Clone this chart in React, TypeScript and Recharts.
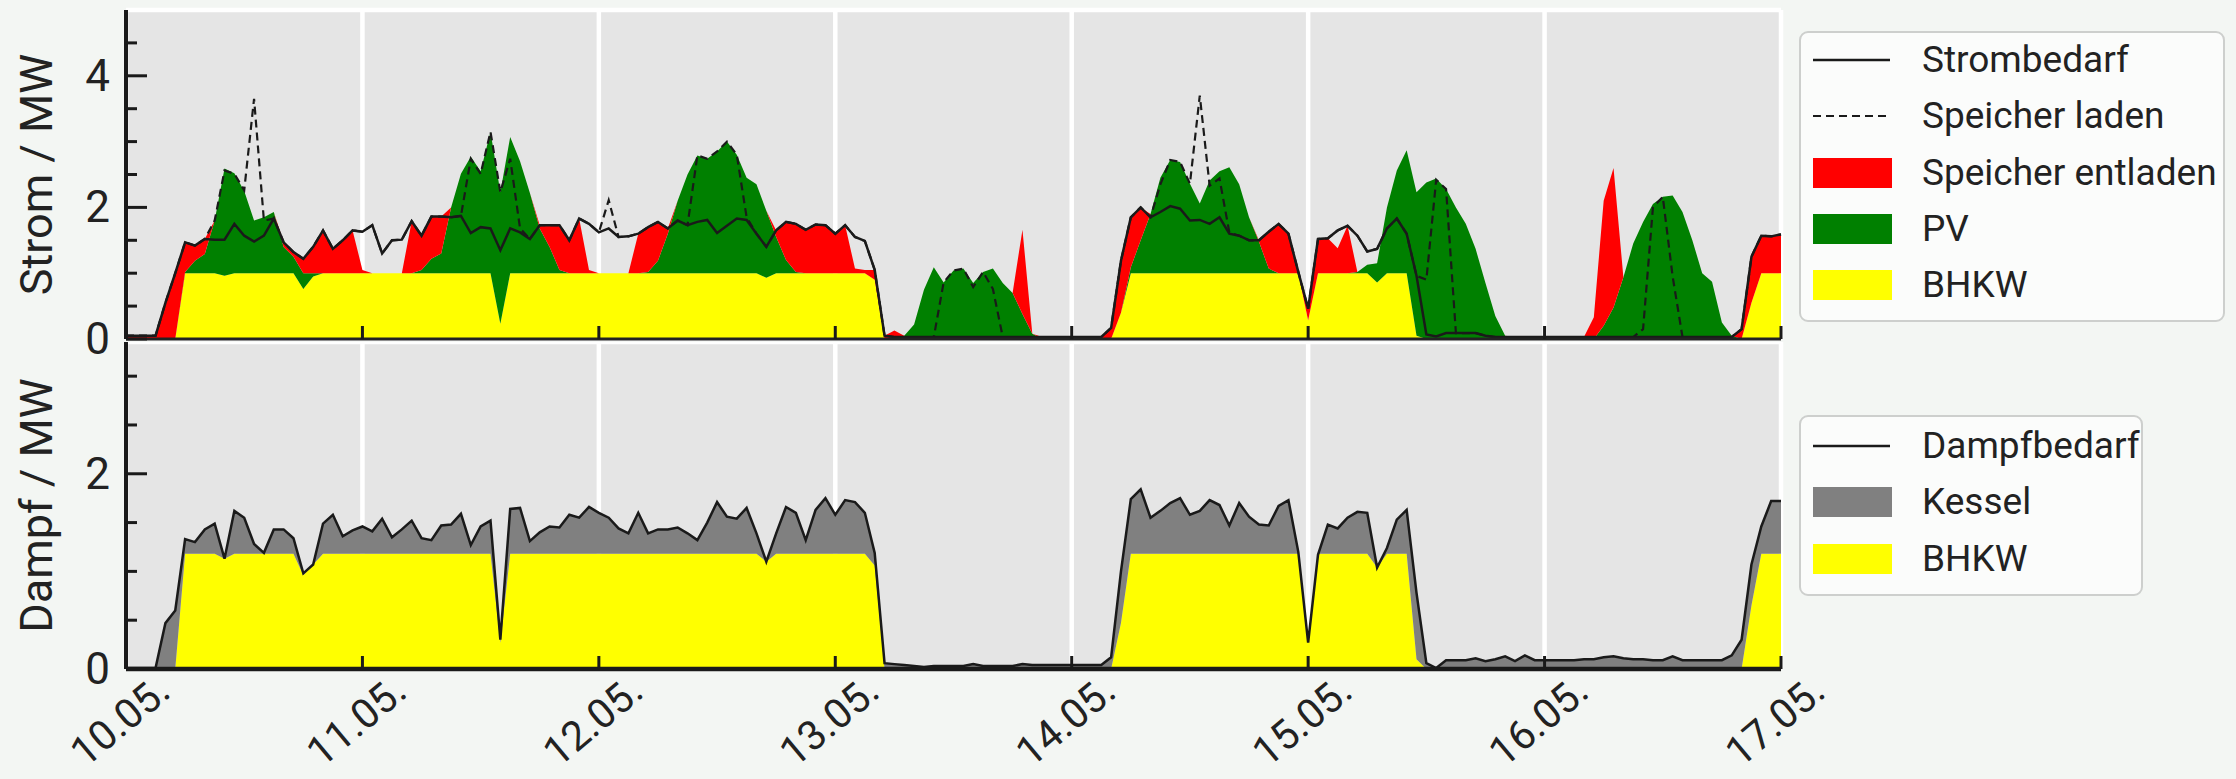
import React from 'react';
import { ComposedChart, Area, Line, XAxis, YAxis, CartesianGrid, Legend } from 'recharts';

const FONT = 'Roboto, "DejaVu Sans", sans-serif';
const BG = '#f3f6f3';
const INK = '#1a1a1a';

const DAY_LABELS = ['10.05.', '11.05.', '12.05.', '13.05.', '14.05.', '15.05.', '16.05.', '17.05.'];
const DAY_TICKS = [0, 24, 48, 72, 96, 120, 144, 168];
const STROM_TICKS = [0, 0.5, 1, 1.5, 2, 2.5, 3, 3.5, 4, 4.5];
const STROM_LABELS = [0, 2, 4];
const STROM_GRID = [2, 4];
const DAMPF_TICKS = [0, 0.5, 1, 1.5, 2, 2.5, 3];
const DAMPF_LABELS = [0, 2];
const DAMPF_GRID = [2];

// hourly values, 10.05. 00:00 .. 17.05. 00:00 (one row per day)
const BHKW_EL = [
  0, 0, 0, 0, 0, 0, 1, 1, 1, 1, 0.96, 1, 1, 1, 1, 1, 1, 1, 0.76, 0.95, 1, 1, 1, 1,
  1, 1, 1, 1, 1, 1, 1, 1, 1, 1, 1, 1, 1, 1, 0.23, 1, 1, 1, 1, 1, 1, 1, 1, 1,
  1, 1, 1, 1, 1, 1, 1, 1, 1, 1, 1, 1, 1, 1, 1, 1, 1, 0.93, 1, 1, 1, 1, 1, 1,
  1, 1, 1, 1, 0.9, 0, 0, 0, 0, 0, 0, 0, 0, 0, 0, 0, 0, 0, 0, 0, 0, 0, 0, 0,
  0, 0, 0, 0, 0, 0.4, 1, 1, 1, 1, 1, 1, 1, 1, 1, 1, 1, 1, 1, 1, 1, 1, 1, 1,
  0.28, 1, 1, 1, 1, 1, 1, 0.86, 1, 1, 1, 0.05, 0, 0, 0, 0, 0, 0, 0, 0, 0, 0, 0, 0,
  0, 0, 0, 0, 0, 0, 0, 0, 0, 0, 0, 0, 0, 0, 0, 0, 0, 0, 0, 0, 0, 0.55, 1, 1,
  1,
];

const PV = [
  0, 0, 0, 0, 0, 0, 0.02, 0.19, 0.29, 0.8, 1.63, 1.52, 1.25, 0.8, 0.85, 0.93, 0.4, 0.25, 0.24, 0.05, 0, 0, 0, 0,
  0, 0, 0, 0, 0, 0, 0.05, 0.22, 0.3, 1.0, 1.51, 1.77, 1.55, 2.15, 2.0, 2.07, 1.7, 1.22, 0.68, 0.4, 0.05, 0, 0, 0,
  0, 0, 0, 0, 0, 0.02, 0.19, 0.6, 1.1, 1.5, 1.79, 1.74, 1.85, 2.0, 1.8, 1.45, 1.35, 1.02, 0.55, 0.2, 0.02, 0, 0, 0,
  0, 0, 0, 0, 0, 0, 0, 0.05, 0.22, 0.75, 1.09, 0.86, 1.04, 1.07, 0.85, 1.02, 1.07, 0.85, 0.7, 0.38, 0.08, 0, 0, 0,
  0, 0, 0, 0, 0, 0, 0.09, 0.5, 0.9, 1.45, 1.72, 1.69, 1.36, 1.06, 1.41, 1.55, 1.61, 1.35, 0.85, 0.48, 0.07, 0, 0, 0,
  0, 0, 0, 0, 0, 0.02, 0.13, 0.29, 1.0, 1.56, 1.87, 2.18, 2.38, 2.44, 2.28, 2.0, 1.75, 1.37, 0.85, 0.35, 0.05, 0, 0, 0,
  0, 0, 0, 0, 0, 0, 0.2, 0.48, 0.94, 1.45, 1.78, 2.05, 2.16, 2.18, 1.93, 1.5, 1.0, 0.87, 0.25, 0.05, 0, 0, 0, 0,
  0,
];

const SPEICHER_ENTLADEN = [
  0.05, 0.05, 0.05, 0.05, 0.55, 1.0, 0.45, 0.23, 0.23, 0, 0, 0, 0, 0, 0, 0, 0.07, 0.07, 0.22, 0.4, 0.65, 0.37, 0.5, 0.65,
  0.05, 0, 0, 0, 0, 0.79, 0.52, 0.64, 0.56, 0, 0, 0, 0, 0, 0, 0, 0, 0, 0.05, 0.33, 0.68, 0.5, 0.83, 0.05,
  0, 0, 0, 0, 0.6, 0.68, 0.59, 0.08, 0, 0, 0, 0, 0, 0, 0, 0, 0, 0, 0.1, 0.58, 0.73, 0.66, 0.74, 0.73,
  0.6, 0.73, 0.07, 0.05, 0.15, 0.05, 0.13, 0, 0, 0, 0, 0, 0, 0, 0, 0, 0, 0, 0, 1.28, 0, 0.03, 0.03, 0.03,
  0.03, 0.03, 0.03, 0.03, 0.17, 0.79, 0.76, 0.5, 0, 0, 0, 0, 0, 0, 0, 0, 0, 0, 0, 0.02, 0.56, 0.75, 0.6, 0.02,
  0.18, 0.52, 0.53, 0.38, 0.72, 0, 0, 0, 0, 0, 0, 0, 0, 0, 0, 0, 0, 0, 0, 0, 0, 0.03, 0.03, 0.03,
  0.03, 0.03, 0.03, 0.03, 0.03, 0.33, 1.9, 2.12, 0, 0, 0, 0, 0, 0, 0, 0, 0, 0, 0, 0, 0.15, 0.7, 0.57, 0.56,
  0.59,
];

const STROMBEDARF = [
  0.05, 0.05, 0.05, 0.05, 0.55, 1.0, 1.47, 1.42, 1.52, 1.51, 1.51, 1.75, 1.57, 1.48, 1.57, 1.83, 1.47, 1.32, 1.22, 1.4, 1.65, 1.37, 1.5, 1.65,
  1.63, 1.73, 1.3, 1.5, 1.51, 1.79, 1.57, 1.86, 1.86, 1.85, 1.87, 1.61, 1.7, 1.68, 1.35, 1.68, 1.62, 1.52, 1.73, 1.73, 1.73, 1.5, 1.83, 1.75,
  1.62, 1.68, 1.55, 1.56, 1.6, 1.7, 1.78, 1.68, 1.8, 1.73, 1.78, 1.81, 1.61, 1.72, 1.83, 1.81, 1.6, 1.4, 1.65, 1.78, 1.75, 1.66, 1.74, 1.73,
  1.6, 1.73, 1.55, 1.49, 1.05, 0.05, 0.03, 0.03, 0.03, 0.03, 0.03, 0.03, 0.03, 0.03, 0.03, 0.03, 0.03, 0.03, 0.03, 0.03, 0.03, 0.03, 0.03, 0.03,
  0.03, 0.03, 0.03, 0.03, 0.17, 1.19, 1.85, 2.0, 1.85, 1.93, 2.02, 1.98, 1.8, 1.81, 1.75, 1.85, 1.6, 1.57, 1.5, 1.5, 1.63, 1.75, 1.6, 1.02,
  0.46, 1.52, 1.53, 1.65, 1.72, 1.57, 1.33, 1.37, 1.68, 1.83, 1.6, 0.96, 0.07, 0.04, 0.09, 0.09, 0.09, 0.09, 0.05, 0.03, 0.03, 0.03, 0.03, 0.03,
  0.03, 0.03, 0.03, 0.03, 0.03, 0.03, 0.03, 0.03, 0.03, 0.03, 0.03, 0.03, 0.03, 0.03, 0.03, 0.03, 0.03, 0.03, 0.03, 0.03, 0.15, 1.25, 1.57, 1.56,
  1.59,
];

const SPEICHER_LADEN = [
  0.05, 0.05, 0.05, 0.05, 0.55, 1.0, 1.47, 1.42, 1.52, 1.8, 2.56, 2.51, 2.26, 3.65, 1.8, 1.83, 1.47, 1.32, 1.22, 1.4, 1.65, 1.37, 1.5, 1.65,
  1.63, 1.73, 1.3, 1.5, 1.51, 1.79, 1.57, 1.86, 1.86, 1.85, 1.87, 2.74, 2.51, 3.15, 2.23, 2.74, 1.68, 1.52, 1.73, 1.73, 1.73, 1.5, 1.83, 1.75,
  1.62, 2.11, 1.55, 1.56, 1.6, 1.7, 1.78, 1.68, 1.8, 1.73, 2.79, 2.74, 2.85, 3.0, 2.8, 1.85, 1.6, 1.4, 1.65, 1.78, 1.75, 1.66, 1.74, 1.73,
  1.6, 1.73, 1.55, 1.49, 1.05, 0.05, 0.03, 0.03, 0.03, 0.03, 0.03, 0.86, 1.04, 1.07, 0.79, 1.02, 0.76, 0.03, 0.03, 0.03, 0.03, 0.03, 0.03, 0.03,
  0.03, 0.03, 0.03, 0.03, 0.17, 1.19, 1.85, 2.0, 1.85, 2.35, 2.72, 2.69, 2.36, 3.7, 2.33, 2.44, 1.62, 1.57, 1.5, 1.5, 1.63, 1.75, 1.6, 1.02,
  0.46, 1.52, 1.53, 1.65, 1.72, 1.57, 1.33, 1.37, 1.68, 1.83, 1.6, 0.96, 0.9, 2.42, 2.28, 0.09, 0.09, 0.09, 0.05, 0.03, 0.03, 0.03, 0.03, 0.03,
  0.03, 0.03, 0.03, 0.03, 0.03, 0.03, 0.03, 0.03, 0.03, 0.03, 0.15, 2.0, 2.16, 0.95, 0.03, 0.03, 0.03, 0.03, 0.03, 0.03, 0.15, 1.25, 1.57, 1.56,
  1.59,
];

const DAMPFBEDARF = [
  0.01, 0.01, 0.01, 0.01, 0.47, 0.6, 1.33, 1.3, 1.43, 1.49, 1.13, 1.62, 1.55, 1.28, 1.19, 1.43, 1.43, 1.34, 0.98, 1.07, 1.49, 1.58, 1.36, 1.42,
  1.46, 1.41, 1.54, 1.35, 1.43, 1.52, 1.34, 1.32, 1.47, 1.48, 1.59, 1.27, 1.46, 1.52, 0.3, 1.64, 1.65, 1.31, 1.4, 1.46, 1.45, 1.58, 1.55, 1.66,
  1.6, 1.55, 1.44, 1.39, 1.6, 1.39, 1.43, 1.43, 1.45, 1.39, 1.32, 1.5, 1.71, 1.56, 1.54, 1.65, 1.39, 1.1, 1.39, 1.66, 1.6, 1.32, 1.63, 1.75,
  1.58, 1.73, 1.71, 1.6, 1.19, 0.06, 0.05, 0.04, 0.03, 0.02, 0.03, 0.03, 0.03, 0.03, 0.05, 0.03, 0.03, 0.03, 0.03, 0.05, 0.04, 0.04, 0.04, 0.04,
  0.04, 0.04, 0.04, 0.04, 0.12, 1.0, 1.74, 1.84, 1.55, 1.62, 1.7, 1.75, 1.58, 1.62, 1.73, 1.68, 1.47, 1.7, 1.56, 1.48, 1.47, 1.67, 1.73, 1.2,
  0.27, 1.17, 1.48, 1.44, 1.55, 1.61, 1.6, 1.04, 1.24, 1.53, 1.63, 0.78, 0.06, 0.01, 0.09, 0.09, 0.09, 0.11, 0.08, 0.1, 0.13, 0.08, 0.14, 0.09,
  0.09, 0.09, 0.09, 0.09, 0.1, 0.1, 0.12, 0.13, 0.11, 0.1, 0.1, 0.09, 0.09, 0.13, 0.09, 0.09, 0.09, 0.09, 0.09, 0.14, 0.3, 1.07, 1.46, 1.72,
  1.72,
];

const BHKW_TH = [
  0, 0, 0, 0, 0, 0, 1.18, 1.18, 1.18, 1.18, 1.13, 1.18, 1.18, 1.18, 1.18, 1.18, 1.18, 1.18, 0.96, 1.07, 1.18, 1.18, 1.18, 1.18,
  1.18, 1.18, 1.18, 1.18, 1.18, 1.18, 1.18, 1.18, 1.18, 1.18, 1.18, 1.18, 1.18, 1.18, 0.27, 1.18, 1.18, 1.18, 1.18, 1.18, 1.18, 1.18, 1.18, 1.18,
  1.18, 1.18, 1.18, 1.18, 1.18, 1.18, 1.18, 1.18, 1.18, 1.18, 1.18, 1.18, 1.18, 1.18, 1.18, 1.18, 1.18, 1.1, 1.18, 1.18, 1.18, 1.18, 1.18, 1.18,
  1.18, 1.18, 1.18, 1.18, 1.06, 0, 0, 0, 0, 0, 0, 0, 0, 0, 0, 0, 0, 0, 0, 0, 0, 0, 0, 0,
  0, 0, 0, 0, 0, 0.47, 1.18, 1.18, 1.18, 1.18, 1.18, 1.18, 1.18, 1.18, 1.18, 1.18, 1.18, 1.18, 1.18, 1.18, 1.18, 1.18, 1.18, 1.18,
  0.27, 1.18, 1.18, 1.18, 1.18, 1.18, 1.18, 1.04, 1.18, 1.18, 1.18, 0.1, 0, 0, 0, 0, 0, 0, 0, 0, 0, 0, 0, 0,
  0, 0, 0, 0, 0, 0, 0, 0, 0, 0, 0, 0, 0, 0, 0, 0, 0, 0, 0, 0, 0, 0.65, 1.18, 1.18,
  1.18,
];

const KESSEL = [
  0.01, 0.01, 0.01, 0.01, 0.47, 0.6, 0.15, 0.12, 0.25, 0.31, 0, 0.44, 0.37, 0.1, 0.01, 0.25, 0.25, 0.16, 0.02, 0, 0.31, 0.4, 0.18, 0.24,
  0.28, 0.23, 0.36, 0.17, 0.25, 0.34, 0.16, 0.14, 0.29, 0.3, 0.41, 0.09, 0.28, 0.34, 0.03, 0.46, 0.47, 0.13, 0.22, 0.28, 0.27, 0.4, 0.37, 0.48,
  0.42, 0.37, 0.26, 0.21, 0.42, 0.21, 0.25, 0.25, 0.27, 0.21, 0.14, 0.32, 0.53, 0.38, 0.36, 0.47, 0.21, 0, 0.21, 0.48, 0.42, 0.14, 0.45, 0.57,
  0.4, 0.55, 0.53, 0.42, 0.13, 0.06, 0.05, 0.04, 0.03, 0.02, 0.03, 0.03, 0.03, 0.03, 0.05, 0.03, 0.03, 0.03, 0.03, 0.05, 0.04, 0.04, 0.04, 0.04,
  0.04, 0.04, 0.04, 0.04, 0.12, 0.53, 0.56, 0.66, 0.37, 0.44, 0.52, 0.57, 0.4, 0.44, 0.55, 0.5, 0.29, 0.52, 0.38, 0.3, 0.29, 0.49, 0.55, 0.02,
  0, 0, 0.3, 0.26, 0.37, 0.43, 0.42, 0, 0.06, 0.35, 0.45, 0.68, 0.06, 0.01, 0.09, 0.09, 0.09, 0.11, 0.08, 0.1, 0.13, 0.08, 0.14, 0.09,
  0.09, 0.09, 0.09, 0.09, 0.1, 0.1, 0.12, 0.13, 0.11, 0.1, 0.1, 0.09, 0.09, 0.13, 0.09, 0.09, 0.09, 0.09, 0.09, 0.14, 0.3, 0.42, 0.28, 0.54,
  0.54,
];

const stromData = STROMBEDARF.map((v, h) => ({
  h,
  bhkw: BHKW_EL[h],
  pv: PV[h],
  entladen: SPEICHER_ENTLADEN[h],
  bedarf: v,
  laden: SPEICHER_LADEN[h],
}));

const dampfData = DAMPFBEDARF.map((v, h) => ({
  h,
  bhkw: BHKW_TH[h],
  kessel: KESSEL[h],
  bedarf: v,
}));

type LegendItem = { label: string; kind: 'line' | 'dash' | 'rect'; color: string };

const STROM_LEGEND: LegendItem[] = [
  { label: 'Strombedarf', kind: 'line', color: INK },
  { label: 'Speicher laden', kind: 'dash', color: INK },
  { label: 'Speicher entladen', kind: 'rect', color: '#ff0000' },
  { label: 'PV', kind: 'rect', color: '#008000' },
  { label: 'BHKW', kind: 'rect', color: '#ffff00' },
];

const DAMPF_LEGEND: LegendItem[] = [
  { label: 'Dampfbedarf', kind: 'line', color: INK },
  { label: 'Kessel', kind: 'rect', color: '#808080' },
  { label: 'BHKW', kind: 'rect', color: '#ffff00' },
];

function LegendBox({ items, width, height, first }: { items: LegendItem[]; width: number; height: number; first: number }) {
  return (
    <div
      style={{
        width,
        height,
        boxSizing: 'border-box',
        border: '2px solid #cdcfcd',
        borderRadius: 9,
        background: '#fbfcfb',
        position: 'relative',
        fontFamily: FONT,
      }}
    >
      {items.map((it, i) => {
        const c = first + i * 56.3;
        return (
          <div key={it.label} style={{ position: 'absolute', left: 0, top: c - 25, height: 50, width: width - 4 }}>
            <svg width={100} height={50} style={{ position: 'absolute', left: 0, top: 0 }}>
              {it.kind === 'rect' && <rect x={12} y={10} width={79} height={30} fill={it.color} />}
              {it.kind === 'line' && <line x1={12} x2={89} y1={25} y2={25} stroke={it.color} strokeWidth={2.5} />}
              {it.kind === 'dash' && (
                <line x1={12} x2={89} y1={25} y2={25} stroke={it.color} strokeWidth={2.2} strokeDasharray="8 5" />
              )}
            </svg>
            <div
              style={{
                position: 'absolute',
                left: 121,
                top: 0,
                height: 50,
                lineHeight: '50px',
                fontSize: 37,
                color: '#222',
                whiteSpace: 'nowrap',
              }}
            >
              {it.label}
            </div>
          </div>
        );
      })}
    </div>
  );
}

const yTick = (labels: number[]) => (props: any) => {
  const { x, y, payload } = props;
  const major = labels.includes(payload.value);
  return (
    <g>
      <line x1={x} x2={x + (major ? 21 : 11)} y1={y} y2={y} stroke={INK} strokeWidth={3} />
      {major && (
        <text x={x - 16} y={y} textAnchor="end" dominantBaseline="central" fontSize={44} fill="#222" fontFamily={FONT}>
          {payload.value}
        </text>
      )}
    </g>
  );
};

const xTick = (withLabel: boolean) => (props: any) => {
  const { x, y, payload } = props;
  const lx = x - 6;
  const ly = y + 52;
  return (
    <g>
      <line x1={x} x2={x} y1={y} y2={y - 13} stroke={INK} strokeWidth={3} />
      {withLabel && (
        <text
          x={lx}
          y={ly}
          transform={`rotate(-40 ${lx} ${ly})`}
          textAnchor="middle"
          dominantBaseline="central"
          fontSize={41}
          fill="#222"
          fontFamily={FONT}
        >
          {DAY_LABELS[Math.round(payload.value / 24)]}
        </text>
      )}
    </g>
  );
};

const axisTitle = (text: string) => (props: any) => {
  const vb = props.viewBox || {};
  const cx = vb.x + 36;
  const cy = vb.y + vb.height / 2;
  return (
    <text
      x={cx}
      y={cy}
      transform={`rotate(-90 ${cx} ${cy})`}
      textAnchor="middle"
      dominantBaseline="central"
      fontSize={45}
      fill="#222"
      fontFamily={FONT}
    >
      {text}
    </text>
  );
};

export default function App() {
  return (
    <div style={{ position: 'absolute', left: 0, top: 0, width: 2236, height: 779, background: BG, fontFamily: FONT }}>
      <div style={{ position: 'absolute', left: 0, top: 0 }}>
        <ComposedChart width={2236} height={372} data={stromData} margin={{ top: 10, right: 455, bottom: 0, left: 0 }}>
          <CartesianGrid yAxisId="grid" fill="#e5e5e5" stroke="#ffffff" strokeWidth={4.5} />
          <XAxis
            dataKey="h"
            type="number"
            domain={[0, 168]}
            ticks={DAY_TICKS}
            interval={0}
            height={33}
            tickSize={0}
            tickMargin={0}
            tickLine={false}
            tick={xTick(false)}
            axisLine={{ stroke: '#222', strokeWidth: 3 }}
          />
          <YAxis
            type="number"
            domain={[0, 5]}
            ticks={STROM_TICKS}
            interval={0}
            width={126}
            tickSize={0}
            tickMargin={0}
            tickLine={false}
            tick={yTick(STROM_LABELS)}
            axisLine={{ stroke: INK, strokeWidth: 4 }}
            label={{ content: axisTitle('Strom / MW') }}
          />
          <YAxis yAxisId="grid" hide type="number" domain={[0, 5]} ticks={STROM_GRID} interval={0} />
          <Area dataKey="bhkw" stackId="s" type="linear" fill="#ffff00" fillOpacity={1} stroke="none" isAnimationActive={false} />
          <Area dataKey="pv" stackId="s" type="linear" fill="#008000" fillOpacity={1} stroke="none" isAnimationActive={false} />
          <Area dataKey="entladen" stackId="s" type="linear" fill="#ff0000" fillOpacity={1} stroke="none" isAnimationActive={false} />
          <Line dataKey="laden" type="linear" stroke={INK} strokeWidth={2.2} strokeDasharray="8 5" dot={false} activeDot={false} isAnimationActive={false} />
          <Line dataKey="bedarf" type="linear" stroke={INK} strokeWidth={2.5} dot={false} activeDot={false} isAnimationActive={false} />
          <Legend
            layout="horizontal"
            verticalAlign="middle"
            align="center"
            wrapperStyle={{ left: 1799, top: 31, width: 426, height: 291 }}
            content={() => <LegendBox items={STROM_LEGEND} width={426} height={291} first={27} />}
          />
        </ComposedChart>
      </div>
      <div style={{ position: 'absolute', left: 0, top: 342 }}>
        <ComposedChart width={2236} height={437} data={dampfData} margin={{ top: 0, right: 455, bottom: 0, left: 0 }}>
          <CartesianGrid yAxisId="grid" fill="#e5e5e5" stroke="#ffffff" strokeWidth={4.5} />
          <XAxis
            dataKey="h"
            type="number"
            domain={[0, 168]}
            ticks={DAY_TICKS}
            interval={0}
            height={110}
            tickSize={0}
            tickMargin={0}
            tickLine={false}
            tick={xTick(true)}
            axisLine={{ stroke: INK, strokeWidth: 4.5 }}
          />
          <YAxis
            type="number"
            domain={[0, 3.35]}
            ticks={DAMPF_TICKS}
            interval={0}
            width={126}
            tickSize={0}
            tickMargin={0}
            tickLine={false}
            tick={yTick(DAMPF_LABELS)}
            axisLine={{ stroke: INK, strokeWidth: 4 }}
            label={{ content: axisTitle('Dampf / MW') }}
          />
          <YAxis yAxisId="grid" hide type="number" domain={[0, 3.35]} ticks={DAMPF_GRID} interval={0} />
          <Area dataKey="bhkw" stackId="d" type="linear" fill="#ffff00" fillOpacity={1} stroke="none" isAnimationActive={false} />
          <Area dataKey="kessel" stackId="d" type="linear" fill="#808080" fillOpacity={1} stroke="none" isAnimationActive={false} />
          <Line dataKey="bedarf" type="linear" stroke={INK} strokeWidth={2.5} dot={false} activeDot={false} isAnimationActive={false} />
          <Legend
            layout="horizontal"
            verticalAlign="middle"
            align="center"
            wrapperStyle={{ left: 1799, top: 73, width: 344, height: 181 }}
            content={() => <LegendBox items={DAMPF_LEGEND} width={344} height={181} first={29} />}
          />
        </ComposedChart>
      </div>
    </div>
  );
}
